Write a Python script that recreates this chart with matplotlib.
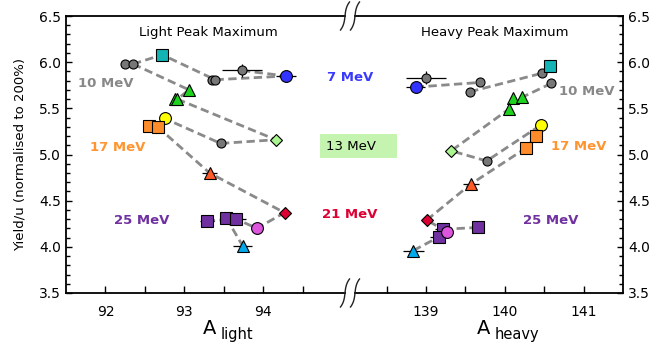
import matplotlib
matplotlib.use('Agg')
import matplotlib.pyplot as plt
import numpy as np
from matplotlib.lines import Line2D
from matplotlib.patches import Rectangle

# --- light fragment (left panel) ---
L_gray_x = [92.25, 92.35, 93.35, 93.39, 93.73, 93.46]
L_gray_y = [5.98, 5.98, 5.81, 5.81, 5.91, 5.12]
L_cyan_x, L_cyan_y = [92.72], [6.08]
L_blue_x, L_blue_y = [94.29], [5.85]
L_gtri_x = [93.06, 92.88, 92.91]
L_gtri_y = [5.70, 5.60, 5.60]
L_gdia_x, L_gdia_y = [94.16], [5.16]
L_yel_x, L_yel_y = [92.75], [5.39]
L_osq_x = [92.55, 92.66]
L_osq_y = [5.31, 5.30]
L_rtri_x, L_rtri_y = [93.32], [4.80]
L_rdia_x, L_rdia_y = [94.27], [4.37]
L_psq_x = [93.29, 93.53, 93.66]
L_psq_y = [4.28, 4.315, 4.30]
L_mag_x, L_mag_y = [93.92], [4.20]
L_btri_x, L_btri_y = [93.74], [4.01]

# dashed trend lines, light
L_lines = [
    ([92.35, 92.72, 93.39, 94.29], [5.98, 6.08, 5.81, 5.85]),
    ([93.73, 94.29], [5.91, 5.85]),
    ([92.35, 93.06, 92.91, 94.16, 93.46, 92.75], [5.98, 5.70, 5.60, 5.16, 5.12, 5.39]),
    ([92.66, 93.32, 94.27, 93.92, 93.66, 93.29], [5.30, 4.80, 4.37, 4.20, 4.30, 4.28]),
    ([93.53, 93.74], [4.315, 4.01]),
]

# error bars, light
L_err_x = [93.73, 94.29, 93.32, 93.29, 93.66, 93.74]
L_err_y = [5.91, 5.85, 4.80, 4.28, 4.30, 4.01]
L_xerr = [0.25, 0.13, 0.10, 0.09, 0.12, 0.12]
L_yerr = [0.07, 0.0, 0.0, 0.0, 0.0, 0.0]

# --- heavy fragment (right panel) ---
H_gray_x = [139.00, 139.56, 139.68, 140.47, 140.59, 139.77]
H_gray_y = [5.83, 5.68, 5.78, 5.88, 5.77, 4.93]
H_cyan_x, H_cyan_y = [140.58], [5.96]
H_blue_x, H_blue_y = [138.87], [5.73]
H_gtri_x = [140.10, 140.22, 140.05]
H_gtri_y = [5.61, 5.62, 5.49]
H_gdia_x, H_gdia_y = [139.32], [5.04]
H_yel_x, H_yel_y = [140.46], [5.32]
H_osq_x = [140.40, 140.27]
H_osq_y = [5.20, 5.07]
H_rtri_x, H_rtri_y = [139.57], [4.68]
H_rdia_x, H_rdia_y = [139.01], [4.29]
H_psq_x = [139.22, 139.17, 139.66]
H_psq_y = [4.19, 4.11, 4.21]
H_mag_x, H_mag_y = [139.27], [4.16]
H_btri_x, H_btri_y = [138.84], [3.96]

H_lines = [
    ([138.87, 139.68], [5.73, 5.78]),
    ([139.56, 140.47, 140.58], [5.68, 5.88, 5.96]),
    ([140.59, 140.22, 140.10, 140.05, 139.32, 139.77, 140.46], [5.77, 5.62, 5.61, 5.49, 5.04, 4.93, 5.32]),
    ([139.01, 139.57, 140.27, 140.40], [4.29, 4.68, 5.07, 5.20]),
    ([138.84, 139.17, 139.22, 139.66], [3.96, 4.11, 4.19, 4.21]),
    ([139.27, 139.01], [4.16, 4.29]),
]

H_err_x = [139.00, 138.87, 139.57, 139.17, 139.22, 138.84]
H_err_y = [5.83, 5.73, 4.68, 4.11, 4.19, 3.96]
H_xerr = [0.25, 0.12, 0.10, 0.12, 0.10, 0.13]
H_yerr = [0.07, 0.0, 0.0, 0.0, 0.0, 0.0]

# energy labels: (text, panel, x, y, colour)
labels = [
    ('10 MeV', 'L', 92.0, 5.77, '#888888'),
    ('17 MeV', 'L', 92.15, 5.08, '#ff9430'),
    ('25 MeV', 'L', 92.46, 4.28, '#7030a0'),
    ('7 MeV', 'L', 95.1, 5.83, '#3a3aff'),
    ('21 MeV', 'L', 95.1, 4.355, '#dd0033'),
    ('10 MeV', 'R', 141.04, 5.68, '#888888'),
    ('17 MeV', 'R', 140.94, 5.09, '#ff9430'),
    ('25 MeV', 'R', 140.585, 4.29, '#7030a0'),
]

GRAY = '#777777'
styles = {
    'gray': dict(marker='o', color=GRAY, ms=6.5),
    'cyan': dict(marker='s', color='#14b4b4', ms=8),
    'blue': dict(marker='o', color='#3333ff', ms=8.5),
    'gtri': dict(marker='^', color='#1ed21e', ms=9),
    'gdia': dict(marker='D', color='#aaf590', ms=6.5),
    'yel': dict(marker='o', color='#ffff00', ms=8.5),
    'osq': dict(marker='s', color='#ff8c2a', ms=8),
    'rtri': dict(marker='^', color='#ff5a28', ms=9),
    'rdia': dict(marker='D', color='#dc0032', ms=6.5),
    'psq': dict(marker='s', color='#7030a0', ms=8),
    'mag': dict(marker='o', color='#dd55dd', ms=8.5),
    'btri': dict(marker='^', color='#00a8ec', ms=9),
}

L_points = {
    'gray': (L_gray_x, L_gray_y), 'cyan': (L_cyan_x, L_cyan_y),
    'blue': (L_blue_x, L_blue_y), 'gtri': (L_gtri_x, L_gtri_y),
    'gdia': (L_gdia_x, L_gdia_y), 'yel': (L_yel_x, L_yel_y),
    'osq': (L_osq_x, L_osq_y), 'rtri': (L_rtri_x, L_rtri_y),
    'rdia': (L_rdia_x, L_rdia_y), 'psq': (L_psq_x, L_psq_y),
    'mag': (L_mag_x, L_mag_y), 'btri': (L_btri_x, L_btri_y),
}
H_points = {
    'gray': (H_gray_x, H_gray_y), 'cyan': (H_cyan_x, H_cyan_y),
    'blue': (H_blue_x, H_blue_y), 'gtri': (H_gtri_x, H_gtri_y),
    'gdia': (H_gdia_x, H_gdia_y), 'yel': (H_yel_x, H_yel_y),
    'osq': (H_osq_x, H_osq_y), 'rtri': (H_rtri_x, H_rtri_y),
    'rdia': (H_rdia_x, H_rdia_y), 'psq': (H_psq_x, H_psq_y),
    'mag': (H_mag_x, H_mag_y), 'btri': (H_btri_x, H_btri_y),
}

plt.rcParams['font.family'] = 'DejaVu Sans'
W, H = 658, 349
fig = plt.figure(figsize=(W / 100, H / 100), dpi=100)

x0, xb, x1 = 66, 350, 623
ytop, ybot = 16, 293
bot = (H - ybot) / H
hgt = (ybot - ytop) / H
axR = fig.add_axes([xb / W, bot, (x1 - xb) / W, hgt])
axL = fig.add_axes([x0 / W, bot, (xb - x0) / W, hgt])
axL.patch.set_visible(False)

axL.set_xlim(91.5, 95.1)
axR.set_xlim(138.036, 141.5)

for ax, pts, lines, ex, ey, xe, ye in [
        (axL, L_points, L_lines, L_err_x, L_err_y, L_xerr, L_yerr),
        (axR, H_points, H_lines, H_err_x, H_err_y, H_xerr, H_yerr)]:
    ax.set_ylim(3.5, 6.5)
    for lx, ly in lines:
        ax.plot(lx, ly, color='#8a8a8a', lw=2, ls=(0, (3, 1.6)), zorder=2)
    ax.errorbar(ex, ey, xerr=xe, yerr=ye, fmt='none', ecolor='black',
                elinewidth=0.9, capsize=0, zorder=3)
    for key, (px, py) in pts.items():
        st = styles[key]
        ax.plot(px, py, ls='none', marker=st['marker'], ms=st['ms'],
                mfc=st['color'], mec='black', mew=0.8, zorder=4)
    ax.yaxis.set_major_locator(plt.MultipleLocator(0.5))
    ax.yaxis.set_minor_locator(plt.MultipleLocator(0.1))
    ax.yaxis.set_major_formatter(plt.FormatStrFormatter('%.1f'))
    ax.tick_params(axis='both', which='both', direction='in', labelsize=10,
                   width=1, top=False)
    ax.tick_params(axis='y', which='major', length=4)
    ax.tick_params(axis='y', which='minor', length=3)
    ax.tick_params(axis='x', which='both', length=5, pad=9)
    for sp in ax.spines.values():
        sp.set_linewidth(1.3)

axL.set_xticks([92, 93, 94])
axL.set_xticks([92.5, 93.5, 94.5], minor=True)
axR.set_xticks([139, 140, 141])
axR.set_xticks([138.5, 139.5, 140.5], minor=True)

axL.spines['right'].set_visible(False)
axR.spines['left'].set_visible(False)
axL.tick_params(axis='y', which='both', left=True, right=False)
axR.tick_params(axis='y', which='both', left=False, right=True,
                labelleft=False, labelright=True)

axL.set_ylabel('Yield/u (normalised to 200%)', fontsize=9.5, labelpad=9)

axL.text(0.5, 0.942, 'Light Peak Maximum', transform=axL.transAxes,
         ha='center', va='center', fontsize=9.5)
axR.text(0.531, 0.942, 'Heavy Peak Maximum', transform=axR.transAxes,
         ha='center', va='center', fontsize=9.5)

for txt, panel, tx, ty, col in labels:
    ax = axL if panel == 'L' else axR
    ax.text(tx, ty, txt, color=col, fontsize=9.5, fontweight='bold',
            ha='center', va='center', clip_on=False, zorder=6)

# 13 MeV box
fig.add_artist(Rectangle((320 / W, 1 - 158 / H), 77 / W, 24 / H,
                         transform=fig.transFigure, fc='#c4f4b0', ec='none',
                         zorder=5))
fig.text(351 / W, 1 - 146 / H, '13 MeV', ha='center', va='center',
         fontsize=9.5, color='black', zorder=6)

# x labels
fig.text(210 / W, 1 - 328 / H, 'A', fontsize=14, ha='center', va='center')
fig.text(237 / W, 1 - 335 / H, 'light', fontsize=10.5, ha='center', va='center')
fig.text(484 / W, 1 - 328 / H, 'A', fontsize=14, ha='center', va='center')
fig.text(517 / W, 1 - 335 / H, 'heavy', fontsize=10.5, ha='center', va='center')

# axis break marks
t = np.linspace(-1, 1, 40)
for yc in (ytop, ybot):
    fig.add_artist(Rectangle(((xb - 4) / W, 1 - (yc + 2) / H), 8 / W, 4 / H,
                             transform=fig.transFigure, fc='white', ec='none',
                             zorder=10))
    for xc in (xb - 5, xb + 5):
        xs = xc + 1.5 * t + 3.0 * t ** 3
        ys = yc - 14 * t
        fig.add_artist(Line2D(xs / W, 1 - ys / H, color='#222222', lw=1.0,
                              transform=fig.transFigure, zorder=11))

fig.savefig('out.png', dpi=100)
